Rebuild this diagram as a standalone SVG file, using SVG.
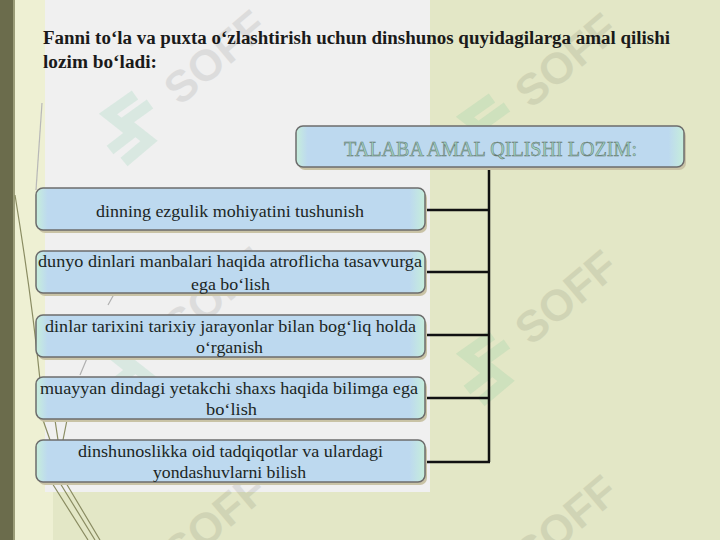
<svg xmlns="http://www.w3.org/2000/svg" width="720" height="540" viewBox="0 0 720 540">
  <defs>
    <linearGradient id="boxFill" x1="0" y1="0" x2="1" y2="0">
      <stop offset="0" stop-color="#c6eedb"/>
      <stop offset="0.03" stop-color="#bdd9ef"/>
      <stop offset="0.96" stop-color="#bdd9ef"/>
      <stop offset="1" stop-color="#c6eedb"/>
    </linearGradient>
    <style>
      .box { fill: url(#boxFill); stroke: #6c6c6c; stroke-width: 1.5; }
      .shadow { fill: #c9c3a6; }
      .t { font-family: "Liberation Serif", "Times New Roman", serif; font-size: 17px; fill: #1b2624; }
      .title { font-family: "Liberation Serif", "Times New Roman", serif; font-size: 18px; font-weight: bold; fill: #1a1a1a; }
      .head { font-family: "Liberation Serif", "Times New Roman", serif; font-size: 21px; fill: #9dd3c1; stroke: #5f706a; stroke-width: 0.5; }
      .conn { stroke: #111; stroke-width: 2.5; fill: none; }
      .deco { fill: none; stroke-width: 1.2; }
      .wm { font-family: "Liberation Sans", Arial, sans-serif; font-weight: bold; font-size: 44px; fill: #000; opacity: 0.08; text-anchor: middle; dominant-baseline: central; }
      .logo { fill: none; stroke: #3cb878; stroke-width: 11; opacity: 0.12; }
    </style>
  </defs>

  <!-- background -->
  <rect x="0" y="0" width="720" height="540" fill="#e3e7c6"/>
  <rect x="13" y="0" width="40" height="540" fill="#eef0d3"/>
  <rect x="45" y="0" width="385" height="492" fill="#f0f0f0"/>
  <rect x="0" y="0" width="13" height="540" fill="#6b6c4c"/>
  <rect x="13" y="0" width="2" height="540" fill="#9a9c78"/>

  <!-- decorative lines -->
  <g id="decoration">
    <path class="deco" stroke="#b8b8b8" d="M42,103 L36,190"/>
    <path class="deco" stroke="#8a8c62" d="M15,195 C24,250 33,310 40,380"/>
    <path class="deco" stroke="#b0b0b0" d="M118,287 L108,305 M88,356 L80,375"/>
    <path class="deco" stroke="#8a8c62" d="M43,420 L50,440 M67,420 L63,440 M55,420 L58,440"/>
    <path class="deco" stroke="#8a8c62" d="M52,483 L88,540 M60,483 L95,540 M66,483 L100,540"/>
  </g>

  <!-- title -->
  <text class="title" x="43" y="44" textLength="627" lengthAdjust="spacingAndGlyphs">Fanni to‘la va puxta o‘zlashtirish uchun dinshunos quyidagilarga amal qilishi</text>
  <text class="title" x="43" y="68" textLength="114" lengthAdjust="spacingAndGlyphs">lozim bo‘ladi:</text>

  <!-- watermarks -->
  <g id="watermarks">
    <text class="wm" x="215" y="57" transform="rotate(-40 215 57)">SOFF</text>
    <text class="wm" x="566" y="60" transform="rotate(-40 566 60)">SOFF</text>
    <text class="wm" x="215" y="294" transform="rotate(-40 215 294)">SOFF</text>
    <text class="wm" x="566" y="297" transform="rotate(-40 566 297)">SOFF</text>
    <text class="wm" x="215" y="520" transform="rotate(-40 215 520)">SOFF</text>
    <text class="wm" x="566" y="522" transform="rotate(-40 566 522)">SOFF</text>
    <path class="logo" d="M135,95 L108,114 L132,133 L110,150 M150,104 L125,122 L149,141 L124,162"/>
    <path class="logo" d="M492,98 L465,117 L489,136 L467,153 M507,107 L482,125 L506,144 L481,165"/>
    <path class="logo" d="M135,332 L108,351 L132,370 L110,387 M150,341 L125,359 L149,378 L124,399"/>
    <path class="logo" d="M492,335 L465,354 L489,373 L467,390 M507,344 L482,362 L506,381 L481,402"/>
  </g>

  <!-- connectors -->
  <g id="connectors">
    <path class="conn" d="M489,167 L489,462"/>
    <path class="conn" d="M425,210 L489,210"/>
    <path class="conn" d="M425,272 L489,272"/>
    <path class="conn" d="M425,335 L489,335"/>
    <path class="conn" d="M425,398 L489,398"/>
    <path class="conn" d="M425,462 L490,462"/>
  </g>

  <!-- header node -->
  <g id="node-header">
    <rect class="shadow" x="298" y="129" width="388" height="41" rx="7"/>
    <rect class="box" x="296" y="126" width="388" height="41" rx="7"/>
    <text class="head" x="344" y="156" textLength="293" lengthAdjust="spacingAndGlyphs">TALABA AMAL QILISHI LOZIM:</text>
  </g>

  <g id="node-1">
    <rect class="shadow" x="38" y="191" width="389" height="42" rx="7"/>
    <rect class="box" x="36" y="188" width="389" height="42" rx="7"/>
    <text class="t" x="96" y="217" textLength="268" lengthAdjust="spacingAndGlyphs">dinning ezgulik mohiyatini tushunish</text>
  </g>

  <g id="node-2">
    <rect class="shadow" x="38" y="254" width="389" height="42" rx="7"/>
    <rect class="box" x="36" y="251" width="389" height="42" rx="7"/>
    <text class="t" x="38" y="267" textLength="384" lengthAdjust="spacingAndGlyphs">dunyo dinlari manbalari haqida atroflicha tasavvurga</text>
    <text class="t" x="191" y="290" textLength="79" lengthAdjust="spacingAndGlyphs">ega bo‘lish</text>
  </g>

  <g id="node-3">
    <rect class="shadow" x="38" y="318" width="389" height="42" rx="7"/>
    <rect class="box" x="36" y="315" width="389" height="42" rx="7"/>
    <text class="t" x="45" y="332" textLength="371" lengthAdjust="spacingAndGlyphs">dinlar tarixini tarixiy jarayonlar bilan bog‘liq holda</text>
    <text class="t" x="196" y="353" textLength="67" lengthAdjust="spacingAndGlyphs">o‘rganish</text>
  </g>

  <g id="node-4">
    <rect class="shadow" x="38" y="380" width="389" height="42" rx="7"/>
    <rect class="box" x="36" y="377" width="389" height="42" rx="7"/>
    <text class="t" x="40" y="394" textLength="378" lengthAdjust="spacingAndGlyphs">muayyan dindagi yetakchi shaxs haqida bilimga ega</text>
    <text class="t" x="206" y="415" textLength="51" lengthAdjust="spacingAndGlyphs">bo‘lish</text>
  </g>

  <g id="node-5">
    <rect class="shadow" x="38" y="443" width="389" height="42" rx="7"/>
    <rect class="box" x="36" y="440" width="389" height="42" rx="7"/>
    <text class="t" x="78" y="457" textLength="305" lengthAdjust="spacingAndGlyphs">dinshunoslikka oid tadqiqotlar va ulardagi</text>
    <text class="t" x="153" y="478" textLength="153" lengthAdjust="spacingAndGlyphs">yondashuvlarni bilish</text>
  </g>
</svg>
